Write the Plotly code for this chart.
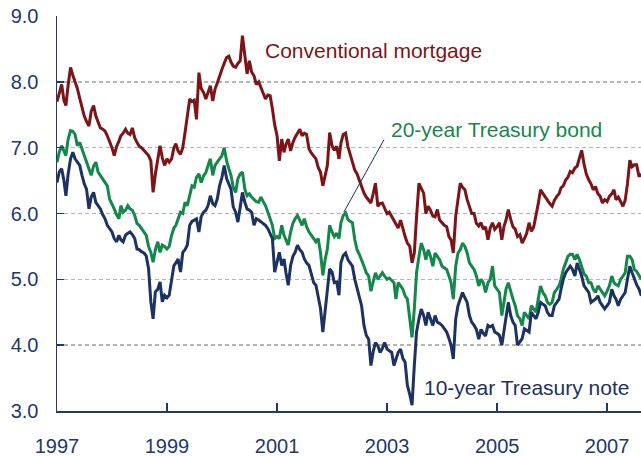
import pandas as pd
import plotly.graph_objects as go

# Semi-monthly observations (1st and 16th of each month), Jan 1997 - Aug 2007
mortgage = [
    7.70, 7.85, 7.96, 7.72, 7.64, 7.95, 8.22, 8.10, 8.00, 7.90, 7.75, 7.62, 7.48, 7.40, 7.33, 7.55, 7.64, 7.48, 7.40, 7.30, 7.28, 7.25, 7.18, 7.10,
    7.00, 6.88, 7.02, 7.10, 7.18, 7.22, 7.28, 7.22, 7.20, 7.30, 7.15, 7.08, 7.02, 7.00, 6.96, 6.93, 6.88, 6.80, 6.32, 6.60, 6.83, 7.03, 6.85, 6.73,
    6.83, 6.78, 6.83, 7.00, 7.06, 6.95, 6.90, 7.00, 7.23, 7.45, 7.74, 7.70, 7.72, 7.43, 8.14, 7.90, 7.84, 7.74, 7.85, 7.94, 7.71, 7.89, 7.98, 8.10,
    8.19, 8.28, 8.37, 8.39, 8.30, 8.24, 8.22, 8.28, 8.32, 8.70, 8.35, 8.12, 8.32, 8.15, 8.09, 7.96, 8.00, 7.91, 7.85, 7.74, 7.80, 7.79, 7.59, 7.35,
    7.18, 6.80, 7.13, 6.93, 7.05, 7.13, 6.95, 7.08, 7.16, 7.22, 7.28, 7.18, 7.22, 7.20, 6.98, 6.92, 6.88, 6.83, 6.70, 6.63, 6.42, 6.60, 6.73, 7.23,
    7.03, 6.96, 7.02, 6.83, 7.07, 7.20, 7.22, 7.02, 6.90, 6.81, 6.66, 6.60, 6.51, 6.40, 6.31, 6.25, 6.21, 6.16, 6.30, 6.46, 6.11, 6.15, 6.16, 6.08,
    6.00, 6.02, 5.95, 5.90, 5.85, 5.78, 5.90, 5.75, 5.65, 5.55, 5.50, 5.25, 5.40, 5.95, 6.46, 6.38, 6.31, 6.00, 6.11, 6.05, 5.96, 5.95, 6.06, 5.90,
    5.86, 5.82, 5.80, 5.65, 5.60, 5.40, 5.96, 6.20, 6.46, 6.40, 6.36, 6.21, 6.10, 6.00, 6.00, 5.85, 5.81, 5.86, 5.76, 5.80, 5.60, 5.78, 5.86, 5.76,
    5.80, 5.86, 5.60, 5.81, 5.90, 6.06, 5.91, 5.80, 5.76, 5.65, 5.68, 5.55, 5.62, 5.70, 5.86, 5.73, 5.80, 5.96, 6.15, 6.36, 6.30, 6.26, 6.20, 6.15,
    6.11, 6.20, 6.26, 6.30, 6.39, 6.42, 6.51, 6.55, 6.64, 6.62, 6.69, 6.72, 6.84, 6.96, 6.75, 6.60, 6.51, 6.45, 6.36, 6.41, 6.30, 6.26, 6.16, 6.21,
    6.18, 6.26, 6.30, 6.36, 6.21, 6.25, 6.18, 6.11, 6.20, 6.45, 6.81, 6.71, 6.74, 6.74, 6.56, 6.60,
]

bond20 = [
    6.78, 6.93, 7.03, 6.95, 6.88, 7.13, 7.26, 7.25, 7.20, 7.03, 7.08, 6.98, 6.88, 6.80, 6.70, 6.58, 6.72, 6.78, 6.63, 6.58, 6.53, 6.48, 6.42, 6.22,
    6.15, 6.07, 5.98, 5.92, 6.12, 6.02, 6.05, 6.12, 6.07, 6.05, 5.97, 5.85, 5.82, 5.77, 5.72, 5.67, 5.50, 5.41, 5.26, 5.45, 5.57, 5.41, 5.52, 5.50,
    5.46, 5.50, 5.67, 5.78, 5.82, 5.92, 6.02, 6.00, 6.17, 6.12, 6.30, 6.42, 6.40, 6.55, 6.60, 6.47, 6.57, 6.62, 6.73, 6.83, 6.58, 6.73, 6.78, 6.83,
    6.88, 7.00, 6.80, 6.68, 6.58, 6.40, 6.32, 6.53, 6.60, 6.63, 6.37, 6.27, 6.30, 6.25, 6.22, 6.18, 6.17, 6.25, 6.18, 6.12, 6.02, 5.90, 5.82, 5.62,
    5.65, 5.62, 5.82, 5.67, 5.60, 5.52, 5.72, 5.85, 5.92, 5.97, 5.90, 5.82, 5.92, 5.80, 5.72, 5.67, 5.60, 5.57, 5.62, 5.41, 5.06, 5.30, 5.46, 5.82,
    5.72, 5.65, 5.70, 5.62, 5.86, 5.97, 6.01, 5.91, 5.88, 5.86, 5.60, 5.45, 5.38, 5.30, 5.20, 5.10, 5.05, 4.82, 4.95, 5.10, 5.00, 5.05, 5.10, 5.05,
    5.00, 5.02, 4.98, 4.95, 4.70, 4.95, 4.90, 4.85, 4.75, 4.70, 4.40, 4.12, 4.55, 5.10, 5.35, 5.55, 5.45, 5.30, 5.45, 5.35, 5.20, 5.40, 5.35, 5.30,
    5.20, 5.18, 5.15, 5.05, 4.95, 4.70, 5.20, 5.40, 5.45, 5.55, 5.50, 5.40, 5.25, 5.20, 5.15, 5.05, 4.90, 5.00, 4.95, 4.80, 4.95, 5.00, 5.20, 4.90,
    4.85, 4.80, 4.45, 4.70, 4.85, 4.95, 4.80, 4.70, 4.60, 4.45, 4.40, 4.30, 4.50, 4.45, 4.40, 4.60, 4.55, 4.50, 4.70, 4.90, 4.80, 4.75, 4.65, 4.62,
    4.65, 4.80, 4.85, 4.90, 5.00, 5.15, 5.25, 5.35, 5.38, 5.38, 5.30, 5.38, 5.30, 5.20, 5.08, 5.05, 4.95, 4.95, 4.85, 4.80, 4.90, 4.85, 4.80, 4.75,
    4.82, 4.90, 5.05, 4.95, 4.92, 4.90, 5.00, 5.05, 5.10, 5.35, 5.35, 5.30, 5.15, 5.12, 5.05, 5.00,
]

note10 = [
    6.47, 6.63, 6.68, 6.50, 6.27, 6.60, 6.83, 6.93, 6.83, 6.78, 6.73, 6.58, 6.45, 6.37, 6.07, 6.25, 6.32, 6.17, 6.12, 6.07, 5.98, 5.92, 5.82, 5.78,
    5.72, 5.62, 5.57, 5.67, 5.60, 5.57, 5.67, 5.70, 5.72, 5.68, 5.62, 5.46, 5.45, 5.42, 5.40, 5.36, 5.16, 4.66, 4.40, 4.81, 4.85, 4.96, 4.66, 4.76,
    4.72, 4.76, 5.01, 5.21, 5.25, 5.31, 5.11, 5.41, 5.45, 5.52, 5.82, 5.88, 5.90, 5.92, 5.72, 5.95, 6.02, 6.05, 6.12, 6.27, 6.15, 6.12, 6.22, 6.42,
    6.55, 6.73, 6.53, 6.45, 6.37, 6.10, 6.02, 5.87, 6.10, 6.32, 6.17, 6.07, 6.05, 6.02, 5.82, 5.92, 5.90, 5.87, 5.85, 5.82, 5.77, 5.70, 5.62, 5.11,
    5.25, 5.41, 5.21, 5.31, 5.10, 4.91, 5.21, 5.35, 5.41, 5.52, 5.45, 5.41, 5.31, 5.25, 5.21, 5.06, 4.95, 4.91, 4.76, 4.56, 4.20, 4.55, 4.91, 5.16,
    5.11, 4.95, 4.96, 4.76, 5.25, 5.36, 5.40, 5.30, 5.25, 5.20, 5.00, 4.85, 4.75, 4.60, 4.30, 4.15, 4.09, 3.69, 3.90, 4.04, 3.99, 3.89, 3.95, 4.04,
    3.94, 3.92, 3.89, 3.69, 3.80, 3.89, 3.94, 3.80, 3.74, 3.39, 3.25, 3.09, 3.69, 4.20, 4.40, 4.55, 4.45, 4.30, 4.50, 4.40, 4.30, 4.45, 4.35, 4.33,
    4.30, 4.25, 4.20, 4.10, 4.00, 3.79, 4.40, 4.60, 4.70, 4.80, 4.72, 4.65, 4.45, 4.35, 4.30, 4.24, 4.09, 4.24, 4.18, 4.14, 4.30, 4.28, 4.30, 4.20,
    4.18, 4.15, 4.00, 4.25, 4.45, 4.65, 4.45, 4.35, 4.30, 4.00, 4.05, 4.10, 4.25, 4.22, 4.20, 4.50, 4.45, 4.40, 4.50, 4.65, 4.62, 4.60, 4.50, 4.45,
    4.45, 4.60, 4.65, 4.70, 4.85, 5.00, 5.10, 5.15, 5.20, 5.15, 5.05, 5.25, 5.15, 5.05, 4.90, 4.85, 4.80, 4.65, 4.68, 4.70, 4.75, 4.65, 4.60, 4.55,
    4.60, 4.65, 4.85, 4.75, 4.70, 4.60, 4.70, 4.75, 4.80, 5.00, 5.20, 5.10, 5.00, 4.92, 4.85, 4.75,
]

months = pd.date_range("1997-01-01", "2007-08-01", freq="MS")
dates = sorted(list(months) + list(months + pd.Timedelta(days=15)))

series_names = ["Conventional mortgage", "20-year Treasury bond", "10-year Treasury note"]
y_ticks = [3, 4, 5, 6, 7, 8, 9]

RED = "#7d1518"
GREEN = "#14884a"
NAVY = "#1c3263"
AXIS = "#22396b"
FONT = "Liberation Sans, Arial, sans-serif"

fig = go.Figure()
for vals, name, col in [(mortgage, series_names[0], RED),
                        (bond20, series_names[1], GREEN),
                        (note10, series_names[2], NAVY)]:
    n = min(len(vals), len(dates))
    fig.add_trace(go.Scatter(x=dates[:n], y=vals[:n], mode="lines", name=name,
                             line=dict(color=col, width=3), hoverinfo="skip"))

fig.update_layout(
    template="none",
    width=641, height=456,
    margin=dict(l=57, r=0, t=16, b=45, pad=0, autoexpand=False),
    paper_bgcolor="white", plot_bgcolor="white",
    showlegend=False,
    font=dict(family=FONT, size=20, color=AXIS),
)

fig.update_xaxes(
    type="date", automargin=False,
    range=["1997-01-01", "2007-08-14"],
    tick0="1997-01-01", dtick="M24", tickformat="%Y",
    ticks="inside", ticklen=8, tickwidth=1.5, tickcolor=AXIS,
    showline=True, linecolor=AXIS, linewidth=1.5,
    showgrid=False, zeroline=False,
    tickfont=dict(family=FONT, size=20, color=AXIS),
    ticklabelstandoff=16,
)
fig.update_yaxes(
    automargin=False,
    range=[3, 9], tickvals=y_ticks, tickformat=".1f",
    ticks="inside", ticklen=7, tickwidth=1.5, tickcolor=AXIS,
    showline=True, linecolor=AXIS, linewidth=1.5,
    showgrid=True, gridcolor="#b5b5b5", gridwidth=1.5, griddash="4px,3px",
    zeroline=False,
    tickfont=dict(family=FONT, size=20, color=AXIS),
    ticklabelstandoff=13,
)

ann_font = 21
fig.add_annotation(xref="paper", yref="paper", x=(263 - 57) / 584, y=(411 - 50) / 395,
                   text=series_names[0], showarrow=False, xanchor="left", yanchor="middle",
                   font=dict(family=FONT, size=ann_font, color=RED))
fig.add_annotation(xref="paper", yref="paper", x=(389 - 57) / 584, y=(411 - 129.5) / 395,
                   text=series_names[1], showarrow=False, xanchor="left", yanchor="middle",
                   font=dict(family=FONT, size=ann_font, color=GREEN))
fig.add_annotation(xref="paper", yref="paper", x=(421.5 - 57) / 584, y=(411 - 387) / 395,
                   text=series_names[2], showarrow=False, xanchor="left", yanchor="middle",
                   font=dict(family=FONT, size=ann_font, color=NAVY))
# pointer from the 20-year label to its 2002 peak
fig.add_annotation(x="2002-03-20", y=6.02, xref="x", yref="y", text="",
                   showarrow=True, arrowhead=0, arrowwidth=1, arrowcolor=NAVY,
                   ax=41, ay=-74, standoff=0, startstandoff=0)

fig.write_html(
    "out.html",
    config={"displayModeBar": False, "staticPlot": True},
    post_script="document.body.style.margin='0';document.body.style.padding='0';"
                "document.body.style.overflow='hidden';",
)
